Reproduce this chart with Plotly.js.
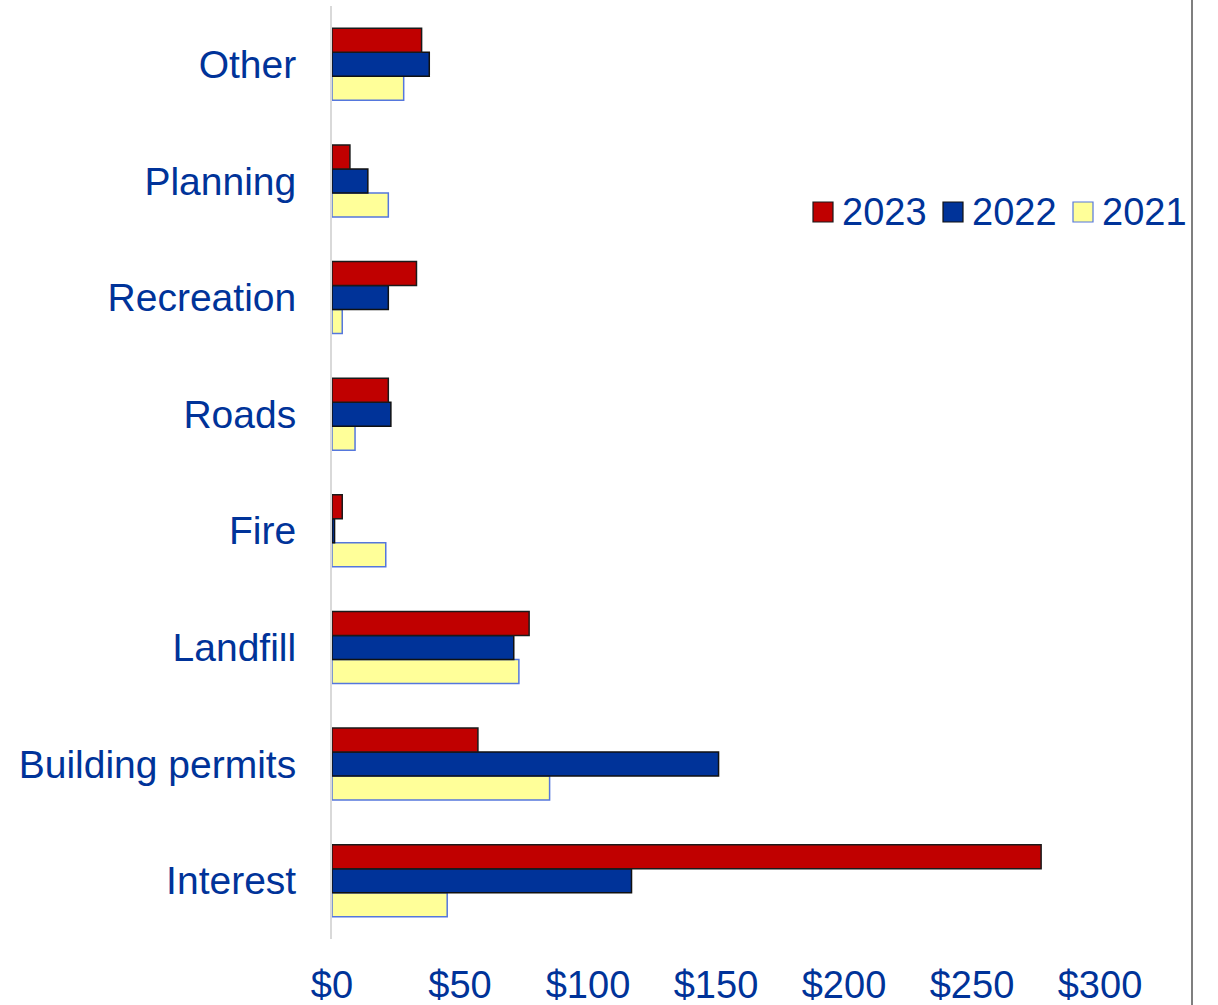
<!DOCTYPE html>
<html>
<head>
<meta charset="utf-8">
<script src="https://cdn.plot.ly/plotly-3.0.1.min.js"></script>
<style>
  html, body { margin: 0; padding: 0; background: #ffffff; }
  #chart { width: 1218px; height: 1005px; }
</style>
</head>
<body>
<div id="chart"></div>
<script>
// Revenue by source, in dollars (thousands), three fiscal years.
// Categories listed bottom-to-top as they appear on the axis.
const categories = ["Interest", "Building permits", "Landfill", "Fire", "Roads", "Recreation", "Planning", "Other"];

const years = ["2023", "2022", "2021"];
const values2023 = [277, 57, 77, 4, 22, 33, 7, 35];
const values2022 = [117, 151, 71, 1, 23, 22, 14, 38];
const values2021 = [45, 85, 73, 21, 9, 4, 22, 28];

const xTickVals = [0, 50, 100, 150, 200, 250, 300];
const xTickText = xTickVals.map(v => "$" + v);

const fills = { "2023": "#C00000", "2022": "#003399", "2021": "#FFFF99" };
const outlines = { "2023": "#1a1a1a", "2022": "#111111", "2021": "#5577dd" };
const seriesValues = { "2023": values2023, "2022": values2022, "2021": values2021 };

const textColor = "#003399";
const fontFamily = "Liberation Sans, Arial, sans-serif";

// Plot area geometry in pixels
const W = 1218, H = 1005;
const margin = { l: 332, r: 118, t: 6, b: 66 };
const plotW = W - margin.l - margin.r;
const plotH = H - margin.t - margin.b;
const px2x = p => (p - margin.l) / plotW;
const px2y = p => (H - margin.b - p) / plotH;

// Plotly stacks grouped horizontal bars from the bottom up,
// so the oldest year goes first to sit lowest in each group.
const traces = years.slice().reverse().map(yr => ({
  type: "bar",
  orientation: "h",
  name: yr,
  y: categories,
  x: seriesValues[yr],
  marker: { color: fills[yr], line: { color: outlines[yr], width: 1.5 } },
  hoverinfo: "x+y+name"
}));

// Custom legend: swatch + label for each year, laid out horizontally
const legendLeft = 813, legendStep = 130, swatch = 20, legendMidY = 212;
const shapes = [];
const annotations = [];
years.forEach((yr, i) => {
  const x0 = legendLeft + i * legendStep;
  shapes.push({
    type: "rect", xref: "paper", yref: "paper",
    x0: px2x(x0), x1: px2x(x0 + swatch),
    y0: px2y(legendMidY + swatch / 2), y1: px2y(legendMidY - swatch / 2),
    fillcolor: fills[yr], line: { color: outlines[yr], width: 1.2 }
  });
  annotations.push({
    xref: "paper", yref: "paper",
    x: px2x(x0 + 27), y: px2y(legendMidY),
    xanchor: "left", yanchor: "middle",
    text: yr, showarrow: false,
    font: { family: fontFamily, size: 38, color: textColor }
  });
});

// Chart frame edge on the right
shapes.push({
  type: "line", xref: "paper", yref: "paper",
  x0: px2x(1192), x1: px2x(1192), y0: px2y(H), y1: px2y(0),
  line: { color: "#555555", width: 1.5 }
});

const layout = {
  width: W, height: H,
  margin: margin,
  paper_bgcolor: "#ffffff",
  plot_bgcolor: "#ffffff",
  barmode: "group",
  bargap: 0.383,
  bargroupgap: 0,
  showlegend: false,
  font: { family: fontFamily, size: 38, color: textColor },
  xaxis: {
    range: [0, 300],
    tickmode: "array",
    tickvals: xTickVals,
    ticktext: xTickText,
    showgrid: false,
    zeroline: false,
    showline: false,
    ticks: "",
    ticklabelstandoff: 20,
    tickfont: { family: fontFamily, size: 38, color: textColor },
    fixedrange: true
  },
  yaxis: {
    type: "category",
    categoryorder: "array",
    categoryarray: categories,
    showgrid: false,
    zeroline: false,
    showline: true,
    linecolor: "#d9d9d9",
    linewidth: 2,
    ticks: "",
    ticklabelstandoff: 26,
    tickfont: { family: fontFamily, size: 39, color: textColor },
    fixedrange: true
  },
  shapes: shapes,
  annotations: annotations
};

Plotly.newPlot("chart", traces, layout, { displayModeBar: false, staticPlot: true });
</script>
</body>
</html>
